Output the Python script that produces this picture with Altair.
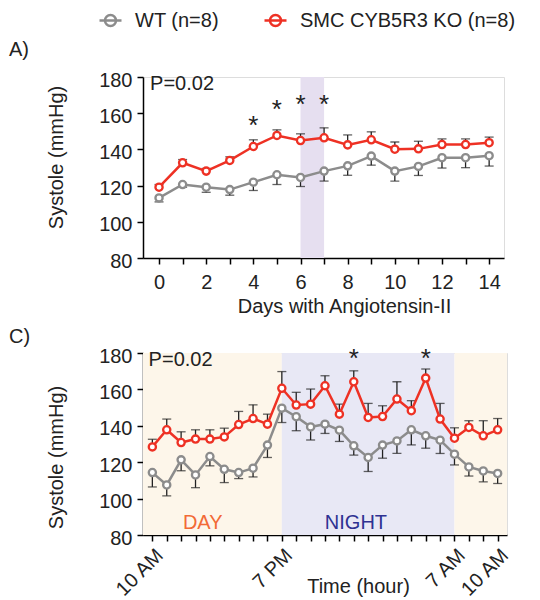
import altair as alt
import pandas as pd

FONT = "Liberation Sans"
RED = "#ee3124"
GRAY = "#8c8c8c"
INK = "#222222"

groups = ["WT (n=8)", "SMC CYB5R3 KO (n=8)"]
colors = [GRAY, RED]

# ---- Panel A: days with Angiotensin-II ----
days = list(range(15))
ko_days = [119.1, 132.6, 128.0, 133.9, 141.6, 147.7, 144.9, 146.4, 142.5, 145.3, 140.1, 140.3, 142.7, 142.7, 143.7]
ko_days_err = [1.5, 1.8, 1.5, 2.0, 3.7, 3.1, 3.7, 5.5, 5.5, 4.4, 4.0, 4.2, 3.1, 3.1, 3.1]
wt_days = [113.2, 120.6, 119.1, 117.8, 121.9, 126.0, 124.5, 128.0, 130.9, 136.3, 128.0, 130.6, 135.4, 135.4, 136.5]
wt_days_err = [2.2, 1.5, 2.8, 3.1, 4.6, 5.4, 5.0, 5.5, 5.2, 5.0, 5.5, 5.0, 5.7, 5.5, 5.7]
star_days = [4, 5, 6, 7]
star_days_y = [156.6, 165.8, 168.6, 168.6]
band_start = [6]
band_end = [7]
domain_days = [-0.68, 14.63]

# ---- Panel C: time of day ----
hours = list(range(25))
ko_hours = [128.4, 137.8, 130.8, 132.7, 132.7, 133.9, 140.7, 144.0, 140.9, 160.6, 151.4, 151.9, 162.0,
            146.4, 164.2, 144.6, 145.1, 154.7, 148.3, 166.2, 143.7, 133.2, 139.1, 134.5, 137.8]
ko_hours_err = [4.2, 5.9, 5.9, 5.1, 5.1, 4.8, 7.2, 7.5, 5.5, 9.2, 7.0, 8.3, 5.5,
                5.5, 6.0, 7.7, 5.9, 9.5, 5.5, 5.0, 8.6, 5.7, 3.7, 8.3, 6.2]
wt_hours = [114.3, 107.5, 121.3, 113.0, 123.1, 116.1, 114.3, 116.7, 129.4, 149.7, 145.0, 139.4, 140.9,
            137.6, 129.0, 122.6, 129.4, 131.7, 137.8, 134.5, 132.1, 124.4, 117.4, 115.2, 113.8]
wt_hours_err = [7.9, 6.0, 6.0, 7.0, 5.1, 7.3, 3.3, 4.8, 6.8, 7.9, 7.7, 7.2, 5.1,
                6.2, 5.1, 7.7, 7.2, 6.8, 8.3, 6.8, 7.3, 5.9, 5.0, 6.0, 5.5]
star_hours = [14, 19]
star_hours_y = [180.4, 180.4]
hour_ticks = [0, 9, 21, 24]
hour_labels = ["10 AM", "7 PM", "7 AM", "10 AM"]
domain_hours = [-0.65, 24.65]
period_start = [domain_hours[0], 9, 21]
period_end = [9, 21, domain_hours[1]]
period_color = ["#fdf6ea", "#e8e8f5", "#fdf6ea"]
period_text = ["DAY", "NIGHT"]
period_text_x = [3.5, 14.15]
period_text_y = [86.5, 86.5]
period_text_color = ["#f26a36", "#2e3192"]

y_domain = [80, 180]
y_ticks = [80, 100, 120, 140, 160, 180]


def series_frame(x, ko, ko_err, wt, wt_err):
    rows = []
    for xi, v, e in zip(x, wt, wt_err):
        rows.append(dict(x=xi, v=v, lo=v - e, hi=v, cap=v - e, g=groups[0]))
    for xi, v, e in zip(x, ko, ko_err):
        rows.append(dict(x=xi, v=v, lo=v, hi=v + e, cap=v + e, g=groups[1]))
    return pd.DataFrame(rows)


K = 0.2761
LEG_PATH = (f"M-1,0L1,0M0.5,0C0.5,{K},{K},0.5,0,0.5C-{K},0.5,-0.5,{K},-0.5,0"
            f"C-0.5,-{K},-{K},-0.5,0,-0.5C{K},-0.5,0.5,-{K},0.5,0Z")
color_enc = alt.Color(
    "g:N",
    scale=alt.Scale(domain=groups, range=colors),
    legend=alt.Legend(
        title=None, orient="none", direction="horizontal", legendX=-45, legendY=-69,
        symbolType=LEG_PATH, symbolSize=484, symbolStrokeWidth=2.5,
        labelFontSize=20, labelFont=FONT, labelColor=INK, labelOffset=12, labelLimit=400,
        columnPadding=40, symbolFillColor="white",
    ),
)

yscale = alt.Scale(domain=y_domain, nice=False, zero=False)


def y_axis(title_y):
    return alt.Axis(
        values=y_ticks, title="Systole (mmHg)", titleFontSize=20, titleFont=FONT,
        titleFontWeight="normal", titleColor=INK, titleX=-87, titleY=title_y,
        titleAngle=-90, titleAlign="center", titleBaseline="middle",
        labelFontSize=20, labelFont=FONT, labelColor=INK, labelPadding=5, labelOffset=3,
        labelOverlap=False, labelBound=False,
        tickSize=6, tickColor="black", tickWidth=1.5, domainColor="black", domainWidth=1.5,
        grid=False,
    )


def panel(df, xscale, xaxis, yaxis, band_df, band_fill, star_df, ptext_x, text_df=None):
    def X(f):
        return alt.X(f, scale=xscale, axis=xaxis)

    def Y(f):
        return alt.Y(f, scale=yscale, axis=yaxis)

    layers = []
    if band_fill is None:
        layers.append(alt.Chart(band_df).mark_rect().encode(
            x=X("s:Q"), x2="e:Q", fill=alt.Fill("c:N", scale=None)))
    else:
        layers.append(alt.Chart(band_df).mark_rect(color=band_fill).encode(x=X("s:Q"), x2="e:Q"))
    if text_df is not None:
        layers.append(alt.Chart(text_df).mark_text(
            fontSize=20, font=FONT, baseline="middle", align="center").encode(
            x=X("x:Q"), y=Y("v:Q"), text="t:N", color=alt.Color("c:N", scale=None)))
    base = alt.Chart(df)
    rules = base.mark_rule(color=INK, strokeWidth=1.3).encode(x=X("x:Q"), y=Y("lo:Q"), y2="hi:Q")
    caps = base.mark_tick(orient="horizontal", size=9, thickness=1.3, color=INK).encode(
        x=X("x:Q"), y=Y("cap:Q"))
    line = base.mark_line(strokeWidth=2.5).encode(x=X("x:Q"), y=Y("v:Q"), color=color_enc)
    pts = base.mark_point(shape="circle", filled=False, fill="white", size=52, strokeWidth=2.3,
                          opacity=1).encode(x=X("x:Q"), y=Y("v:Q"), color=color_enc)
    stars = alt.Chart(star_df).mark_text(
        text="*", fontSize=26, font=FONT, color=INK, baseline="middle", dy=7).encode(
        x=X("x:Q"), y=Y("v:Q"))
    ptxt = alt.Chart(pd.DataFrame({"x": [ptext_x], "v": [176.0]})).mark_text(
        text="P=0.02", align="left", baseline="middle", fontSize=20, font=FONT, color=INK
    ).encode(x=X("x:Q"), y=Y("v:Q"))
    layers += [rules, caps, line, pts, stars, ptxt]
    return alt.layer(*layers)


# Panel A
dfA = series_frame(days, ko_days, ko_days_err, wt_days, wt_days_err)
xscaleA = alt.Scale(domain=domain_days, nice=False, zero=False)
xaxisA = alt.Axis(
    values=days, labelExpr="datum.value % 2 == 0 ? datum.label : ''",
    title="Days with Angiotensin-II", titleFontSize=20, titleFont=FONT, titleFontWeight="normal",
    titleColor=INK, titleX=201, titleY=54, titleAlign="center", titleBaseline="alphabetic",
    labelFontSize=20, labelFont=FONT, labelColor=INK, labelPadding=8, labelAngle=0,
    labelOverlap=False, labelBound=False,
    tickSize=6, tickColor="black", tickWidth=1.5, domainColor="black", domainWidth=1.5, grid=False,
)
chartA = panel(
    dfA, xscaleA, xaxisA, y_axis(80),
    pd.DataFrame({"s": band_start, "e": band_end}), "#e6dff0",
    pd.DataFrame({"x": star_days, "v": star_days_y}), -0.38,
).properties(
    width=361, height=181,
    title=alt.TitleParams("A)", anchor="start", frame="group", dx=-134, fontSize=20, font=FONT,
                          fontWeight="normal", color=INK, offset=10),
)

# Panel C
dfC = series_frame(hours, ko_hours, ko_hours_err, wt_hours, wt_hours_err)
xscaleC = alt.Scale(domain=domain_hours, nice=False, zero=False)
label_expr = " : ".join(f"datum.value == {t} ? '{l}'" for t, l in zip(hour_ticks, hour_labels)) + " : ''"
xaxisC = alt.Axis(
    values=hours, labelExpr=label_expr,
    title="Time (hour)", titleFontSize=20, titleFont=FONT, titleFontWeight="normal",
    titleColor=INK, titleX=215, titleY=57, titleAlign="center", titleBaseline="alphabetic",
    labelFontSize=20, labelFont=FONT, labelColor=INK, labelPadding=4, labelAngle=-45,
    labelOverlap=False, labelBound=False,
    tickSize=6, tickColor="black", tickWidth=1.5, domainColor="black", domainWidth=1.5, grid=False,
)
chartC = panel(
    dfC, xscaleC, xaxisC, y_axis(104),
    pd.DataFrame({"s": period_start, "e": period_end, "c": period_color}), None,
    pd.DataFrame({"x": star_hours, "v": star_hours_y}), -0.26,
    text_df=pd.DataFrame({"x": period_text_x, "v": period_text_y, "t": period_text,
                          "c": period_text_color}),
).properties(
    width=364, height=182,
    title=alt.TitleParams("C)", anchor="start", frame="group", dx=-134, dy=1, fontSize=20, font=FONT,
                          fontWeight="normal", color=INK, offset=0),
)

chart = alt.vconcat(chartA, chartC, spacing=9, padding=0).resolve_scale(color="shared").configure_view(
    stroke=None).configure(font=FONT)

chart.save("out.html", embed_options={"renderer": "svg", "actions": False})
